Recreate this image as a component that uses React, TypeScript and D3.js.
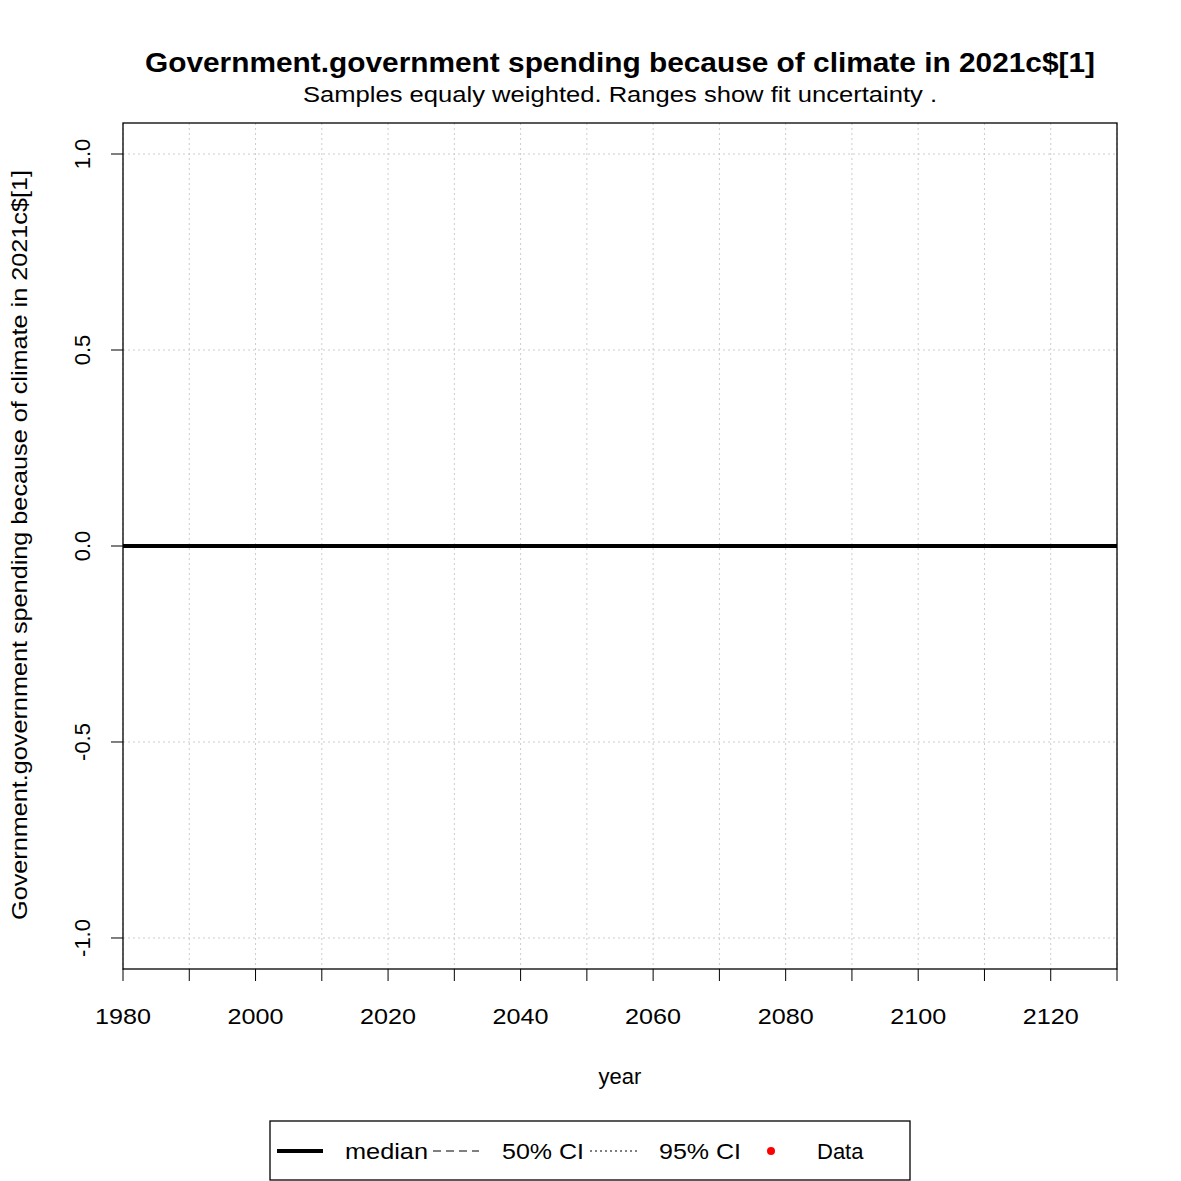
import React from "react";
import * as d3 from "d3";

const years = [1980, 2130];
const median = [0, 0];
const xTicks = d3.range(1980, 2131, 10);
const xLabels = [1980, 2000, 2020, 2040, 2060, 2080, 2100, 2120];
const yTicks = [-1, -0.5, 0, 0.5, 1];

export default function App() {
  const W = 1181, H = 1181;
  const L = 123, R = 1117, T = 123, B = 969;
  const x = d3.scaleLinear().domain([1980, 2130]).range([L, R]);
  const y = d3.scaleLinear().domain([-1.0791, 1.0791]).range([B, T]);
  const line = d3.line<number>().x((_, i) => x(years[i])).y((d) => y(d));
  const f = "Liberation Sans, Arial, sans-serif";
  return (
    <svg width={W} height={H} style={{ position: "absolute", left: 0, top: 0 }} fontFamily={f}>
      <rect width={W} height={H} fill="white" />
      {xTicks.map((t) => (
        <line key={"gx" + t} x1={x(t)} x2={x(t)} y1={T} y2={B} stroke="#ccc" strokeDasharray="2,3" />
      ))}
      {yTicks.map((t) => (
        <line key={"gy" + t} x1={L} x2={R} y1={y(t)} y2={y(t)} stroke="#ccc" strokeDasharray="2,3" />
      ))}
      <path d={line(median) || ""} stroke="black" strokeWidth={4} fill="none" />
      <rect x={L} y={T} width={R - L} height={B - T} fill="none" stroke="black" strokeWidth={1.3} />
      {xTicks.map((t) => (
        <line key={"tx" + t} x1={x(t)} x2={x(t)} y1={B} y2={B + 12} stroke="black" />
      ))}
      {xLabels.map((t) => (
        <text key={"lx" + t} x={x(t)} y={1024} fontSize={22} textAnchor="middle" textLength={56} lengthAdjust="spacingAndGlyphs">{t}</text>
      ))}
      {yTicks.map((t) => (
        <g key={"ty" + t}>
          <line x1={L - 12} x2={L} y1={y(t)} y2={y(t)} stroke="black" />
          <text transform={`translate(90,${y(t)}) rotate(-90)`} fontSize={22} textAnchor="middle">{t.toFixed(1)}</text>
        </g>
      ))}
      <text x={620} y={72} fontSize={27} fontWeight="bold" textAnchor="middle" textLength={950} lengthAdjust="spacingAndGlyphs">Government.government spending because of climate in 2021c$[1]</text>
      <text x={620} y={102} fontSize={22} textAnchor="middle" textLength={634} lengthAdjust="spacingAndGlyphs">Samples equaly weighted. Ranges show  fit uncertainty .</text>
      <text x={620} y={1084} fontSize={22} textAnchor="middle">year</text>
      <text transform="translate(27,545) rotate(-90)" fontSize={22} textAnchor="middle" textLength={750} lengthAdjust="spacingAndGlyphs">Government.government spending because of climate in 2021c$[1]</text>
      <rect x={270} y={1121} width={640} height={59} fill="white" stroke="black" strokeWidth={1.3} />
      <line x1={277} x2={323} y1={1151} y2={1151} stroke="black" strokeWidth={4} />
      <text x={345} y={1159} fontSize={22} textLength={83} lengthAdjust="spacingAndGlyphs">median</text>
      <line x1={433} x2={479} y1={1151} y2={1151} stroke="black" strokeDasharray="8,5" />
      <text x={502} y={1159} fontSize={22} textLength={82} lengthAdjust="spacingAndGlyphs">50% CI</text>
      <line x1={590} x2={637} y1={1151} y2={1151} stroke="black" strokeDasharray="2,3" />
      <text x={659} y={1159} fontSize={22} textLength={82} lengthAdjust="spacingAndGlyphs">95% CI</text>
      <circle cx={771} cy={1151} r={4} fill="red" />
      <text x={817} y={1159} fontSize={22}>Data</text>
    </svg>
  );
}
